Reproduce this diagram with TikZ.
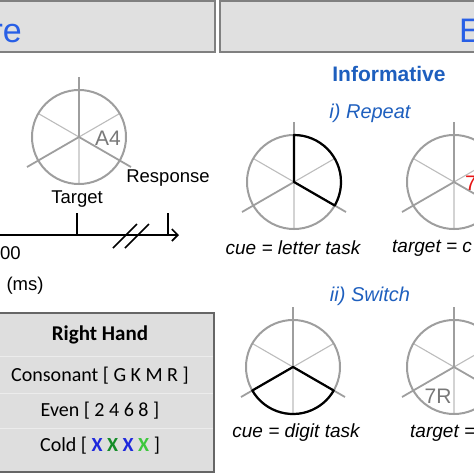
\documentclass[tikz,border=0pt]{standalone}
\usepackage{fontspec}
\setmainfont{Liberation Sans}
\newfontfamily\calfont{Carlito}
\usetikzlibrary{arrows.meta}
\definecolor{rimgray}{RGB}{158,158,158}
\definecolor{spokegray}{RGB}{188,188,188}
\definecolor{bannerfill}{RGB}{224,224,224}
\definecolor{bannerblue}{RGB}{40,95,230}
\definecolor{headblue}{RGB}{30,95,190}
\definecolor{boxfill}{RGB}{222,222,222}
\definecolor{xblue}{RGB}{30,40,220}
\definecolor{xgreen}{RGB}{20,140,40}
\definecolor{xlgreen}{RGB}{60,200,60}
\definecolor{lbl}{RGB}{120,120,120}
\definecolor{cuered}{RGB}{230,20,20}
\begin{document}
\begin{tikzpicture}[x=1pt,y=1pt,
  rim/.style={draw=rimgray,line width=2pt},
  thickspoke/.style={draw=rimgray,line width=1.8pt},
  thinspoke/.style={draw=spokegray,line width=1.1pt},
  wedge/.style={draw=black,line width=2.2pt,line join=round},
  banner/.style={draw=gray,fill=bannerfill,line width=1.2pt},
  bannertext/.style={text=bannerblue,font=\fontsize{34}{36}\selectfont,inner sep=0pt},
  t18/.style={font=\fontsize{18.5}{20}\selectfont,inner sep=0pt},
  captext/.style={font=\fontsize{19}{21}\selectfont\itshape,inner sep=0pt},
  head/.style={text=headblue,font=\fontsize{21}{23}\selectfont\bfseries,inner sep=0pt},
  sub/.style={text=headblue,font=\fontsize{20}{22}\selectfont\itshape,inner sep=0pt},
  wlabel/.style={text=lbl,font=\fontsize{21}{23}\selectfont,inner sep=0pt},
  handrow/.style={font=\calfont\fontsize{20}{22}\selectfont,inner sep=0pt},
  handhead/.style={font=\calfont\bfseries\fontsize{21}{23}\selectfont,inner sep=0pt},
  timeline/.style={draw=black,line width=1.6pt},
  wheel/.pic={
    \draw[thinspoke] (0,0) -- (30:47) (0,0) -- (150:47) (0,0) -- (270:47);
    \draw[thickspoke] (0,0) -- (90:60) (0,0) -- (210:60) (0,0) -- (330:60);
    \draw[rim] (0,0) circle[radius=47];
  }]
\useasboundingbox (0,0) rectangle (474,-474);
% banners
\draw[banner] (-2,-1) rectangle (215,-52);
\draw[banner] (220,-1) rectangle (476,-52);
\node[bannertext,anchor=base east] (bl) at (22,-42) {re};
\node[bannertext,anchor=base west] (br) at (459,-42) {E};
% wheels
\coordinate (w0) at (79,-137);
\coordinate (w1) at (294,-182);
\coordinate (w2) at (454,-182);
\coordinate (w3) at (293,-367);
\coordinate (w4) at (454,-367);
\pic at (w0) {wheel};
\pic at (w1) {wheel};
\pic at (w2) {wheel};
\pic at (w3) {wheel};
\pic at (w4) {wheel};
\draw[wedge] (w1) -- ++(90:47) arc[start angle=90,end angle=-30,radius=47] -- cycle;
\draw[wedge] (w3) -- ++(210:47) arc[start angle=210,end angle=330,radius=47] -- cycle;
% left panel
\node[wlabel] (a4) at (108,-138) {A4};
\node[t18] (resp) at (168,-178) {Response};
\node[t18] (targ) at (77,-199) {Target};
\coordinate (t0) at (0,-235);
\coordinate (tend) at (179,-235);
\draw[timeline,-{Straight Barb[length=6pt,width=12pt]}] (t0) -- (tend);
\coordinate (k1t) at (77,-213);
\coordinate (k1b) at (77,-235);
\coordinate (k2t) at (168,-213);
\coordinate (k2b) at (168,-235);
\draw[timeline] (k1t) -- (k1b) (k2t) -- (k2b);
\coordinate (b1a) at (113,-248);
\coordinate (b1b) at (137,-224);
\coordinate (b2a) at (125,-248);
\coordinate (b2b) at (149,-224);
\draw[timeline] (b1a) -- (b1b) (b2a) -- (b2b);
\node[t18,anchor=west] (zz) at (0,-253) {00};
\node[t18] (ms) at (25,-286) {(ms)};
% right panel
\node[head] (inf) at (389,-74) {Informative};
\node[sub] (rep) at (370,-113) {i) Repeat};
\node[captext] (cue1) at (293,-248) {cue = letter task};
\node[captext,anchor=west] (tg1) at (392,-248) {target = c};
\node[wlabel,text=cuered,anchor=west] (red) at (465,-183) {7};
\node[sub] (sw) at (370,-296) {ii) Switch};
\node[captext] (cue2) at (296,-433) {cue = digit task};
\node[captext,anchor=west] (tg2) at (410,-433) {target =};
\node[wlabel] (sr) at (438,-396) {7R};
% hand box
\draw[draw=gray!80!black,fill=boxfill,line width=1.2pt] (-2,-313) rectangle (214,-472);
\draw[white!85!gray,line width=0.8pt] (0,-356) -- (213,-356) (0,-393) -- (213,-393) (0,-428) -- (213,-428);
\node[handhead] (rh) at (100,-335) {Right Hand};
\node[handrow] (cons) at (100,-376) {Consonant [ G K M R ]};
\node[handrow] (even) at (100,-411) {Even [ 2 4 6 8 ]};
\node[handrow] (cold) at (100,-446) {Cold [ \textcolor{xblue}{\textbf{X}} \textcolor{xgreen}{\textbf{X}} \textcolor{xblue}{\textbf{X}} \textcolor{xlgreen}{\textbf{X}} ]};
\end{tikzpicture}
\end{document}
